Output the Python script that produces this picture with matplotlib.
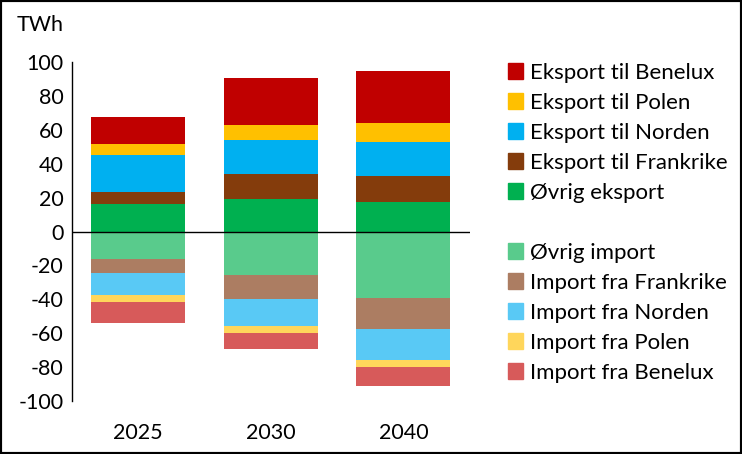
import numpy as np
import matplotlib
matplotlib.use("Agg")
import matplotlib.pyplot as plt
from matplotlib.patches import Patch, Rectangle

years = ["2025", "2030", "2040"]

# export (positive), stacked bottom -> top
export_labels = ["Øvrig eksport", "Eksport til Frankrike", "Eksport til Norden",
                 "Eksport til Polen", "Eksport til Benelux"]
ovrig_eksport = [16.1, 18.9, 17.7]
eksport_frankrike = [7.5, 14.8, 14.8]
eksport_norden = [21.3, 20.0, 20.6]
eksport_polen = [6.5, 8.9, 10.7]
eksport_benelux = [15.9, 27.8, 30.7]

# import (negative), stacked from zero downwards
import_labels = ["Øvrig import", "Import fra Frankrike", "Import fra Norden",
                 "Import fra Polen", "Import fra Benelux"]
ovrig_import = [-16.5, -25.4, -39.4]
import_frankrike = [-8.1, -14.6, -17.9]
import_norden = [-12.6, -15.5, -18.3]
import_polen = [-4.1, -4.5, -4.1]
import_benelux = [-12.8, -9.5, -11.6]

export_colors = ["#00B050", "#843C0C", "#00B0F0", "#FFC000", "#C00000"]
import_colors = ["#59CB8C", "#AC7D62", "#59C9F5", "#FFD65B", "#D75A5A"]

FONT = "Lato"
plt.rcParams["font.family"] = [FONT, "DejaVu Sans"]
plt.rcParams["axes.unicode_minus"] = False

fig = plt.figure(figsize=(7.42, 4.54), dpi=100)
ax = fig.add_axes([0.097, 0.1167, 0.536, 0.7467])

x = np.arange(len(years))
w = 0.71

handles = {}
bottom = np.zeros(len(years))
for lab, vals, col in zip(export_labels,
                          [ovrig_eksport, eksport_frankrike, eksport_norden, eksport_polen, eksport_benelux],
                          export_colors):
    ax.bar(x, vals, w, bottom=bottom, color=col, linewidth=0)
    bottom += np.array(vals)
    handles[lab] = Patch(color=col)

bottom = np.zeros(len(years))
for lab, vals, col in zip(import_labels,
                          [ovrig_import, import_frankrike, import_norden, import_polen, import_benelux],
                          import_colors):
    ax.bar(x, vals, w, bottom=bottom, color=col, linewidth=0)
    bottom += np.array(vals)
    handles[lab] = Patch(color=col)

ax.axhline(0, color="black", lw=1)
ax.set_xlim(-0.5, 2.5)
ax.set_ylim(-100, 100)
ax.set_yticks(range(-100, 101, 20))
ax.set_xticks(x)
ax.set_xticklabels(years)
ax.tick_params(length=0, labelsize=15.5)
ax.tick_params(axis="x", pad=16)
ax.tick_params(axis="y", pad=6)
for s in ["top", "right", "bottom"]:
    ax.spines[s].set_visible(False)
ax.spines["left"].set_linewidth(1)

fig.text(0.022, 0.945, "TWh", fontsize=15.5, va="center")

order = ["Eksport til Benelux", "Eksport til Polen", "Eksport til Norden",
         "Eksport til Frankrike", "Øvrig eksport", None,
         "Øvrig import", "Import fra Frankrike", "Import fra Norden",
         "Import fra Polen", "Import fra Benelux"]
leg_handles = [handles[k] if k else Patch(alpha=0) for k in order]
leg_labels = [k if k else " " for k in order]
fig.legend(leg_handles, leg_labels, loc="upper left", bbox_to_anchor=(0.670, 0.886),
           frameon=False, fontsize=16, handlelength=0.68, handleheight=0.68,
           handletextpad=0.3, labelspacing=0.45, borderpad=0)

fig.add_artist(Rectangle((0, 0), 1, 1, transform=fig.transFigure, fill=False,
                         edgecolor="black", lw=3))

fig.savefig("out.png", dpi=100)
